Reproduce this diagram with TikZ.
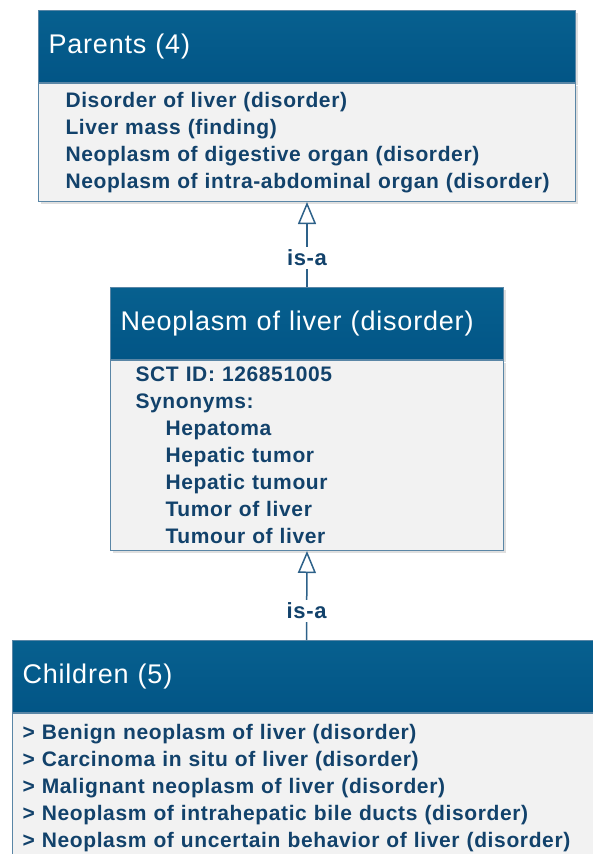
\documentclass[tikz,border=0pt]{standalone}
\usepackage{fontspec}
\setmainfont{Liberation Sans}
\newfontfamily\boxfont[LetterSpace=3]{Liberation Sans}
\usetikzlibrary{arrows.meta,positioning,shadows}
\definecolor{headtop}{HTML}{07608F}
\definecolor{headblue}{HTML}{025586}
\definecolor{textblue}{HTML}{12426B}
\definecolor{bodygray}{HTML}{F2F2F2}
\definecolor{edgeblue}{HTML}{5A86A6}
\definecolor{lineblue}{HTML}{2D6189}

\tikzset{
  boxshadow/.style={drop shadow={opacity=0.25, shadow xshift=2pt, shadow yshift=-2pt}},
  head/.style={draw=edgeblue, line width=1pt, top color=headtop, bottom color=headblue,
    text=white, anchor=north west, align=left, minimum height=72pt, inner xsep=10pt,
    font=\boxfont\fontsize{27}{30}\selectfont, boxshadow},
  body/.style={draw=edgeblue, line width=1pt, fill=bodygray, text=textblue,
    anchor=north west, align=left, inner ysep=0pt,
    font=\boxfont\bfseries\fontsize{21}{27}\selectfont, boxshadow},
  isa/.style={draw=lineblue, line width=1.5pt, -{Triangle[open, length=22pt, width=18pt]}},
  isalabel/.style={fill=white, text=textblue, inner sep=3pt,
    font=\boxfont\bfseries\fontsize{22}{26}\selectfont},
}

\begin{document}
\begin{tikzpicture}[x=1pt, y=-1pt]
\useasboundingbox (0,0) rectangle (593,854);
\clip (0,0) rectangle (593,854);
% parents
\node[head, text width=517pt] (parentsHead) at (38,10) {Parents (4)};
\node[body, minimum height=118pt, inner xsep=27pt, text width=483pt] (parentsBody) at (parentsHead.south west) {Disorder of liver (disorder)\\
Liver mass (finding)\\
Neoplasm of digestive organ (disorder)\\
Neoplasm of intra-abdominal organ (disorder)};
% concept
\node[head, text width=373pt] (liverHead) at (110,287) {Neoplasm of liver (disorder)};
\node[body, minimum height=190pt, inner xsep=25pt, text width=343pt] (liverBody) at (liverHead.south west) {SCT ID: 126851005\\
Synonyms:\\
\hspace*{30pt}Hepatoma\\
\hspace*{30pt}Hepatic tumor\\
\hspace*{30pt}Hepatic tumour\\
\hspace*{30pt}Tumor of liver\\
\hspace*{30pt}Tumour of liver};
% children
\node[head, text width=568pt] (childrenHead) at (12,640) {Children (5)};
\node[body, minimum height=150pt, inner xsep=10pt, text width=568pt] (childrenBody) at (childrenHead.south west) {> Benign neoplasm of liver (disorder)\\
> Carcinoma in situ of liver (disorder)\\
> Malignant neoplasm of liver (disorder)\\
> Neoplasm of intrahepatic bile ducts (disorder)\\
> Neoplasm of uncertain behavior of liver (disorder)};
% is-a links
\draw[isa] (liverHead.north) -- node[isalabel, pos=0.34] (isaUp) {is-a} (parentsBody.south);
\draw[isa] (childrenHead.north) -- node[isalabel, pos=0.33] (isaDown) {is-a} (liverBody.south);
\end{tikzpicture}
\end{document}
